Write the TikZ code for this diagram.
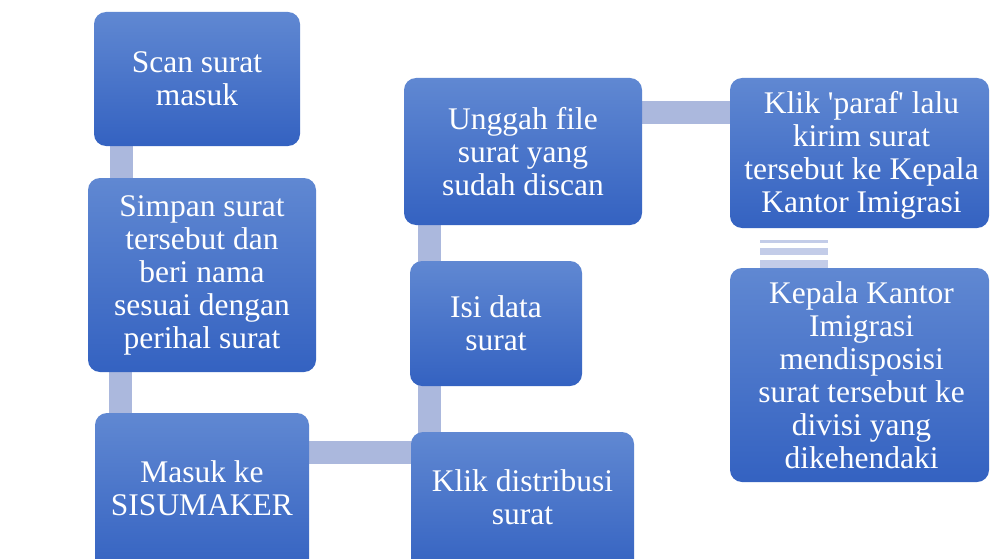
\documentclass[tikz,border=0pt]{standalone}
\usepackage{fontspec}
\setmainfont{Liberation Serif}
\begin{document}
\begin{tikzpicture}[x=1pt,y=-1pt]
\definecolor{boxtop}{HTML}{6088D2}
\definecolor{boxbot}{HTML}{3462C1}
\definecolor{conncol}{HTML}{ABB8DD}
\definecolor{stripecol}{HTML}{C3CCE8}
\tikzset{
  box/.style={draw=none, rounded corners=12pt, top color=boxtop, bottom color=boxbot, inner sep=0pt},
  txt/.style={text=white, align=center, font=\fontsize{31.5}{33}\selectfont, inner sep=0pt},
  conn/.style={draw=conncol, line width=23pt},
  stripe/.style={fill=stripecol, draw=none}
}
\useasboundingbox (0,0) rectangle (990,559);
\clip (0,0) rectangle (990,559);
\fill[white] (0,0) rectangle (990,559);
\path
  coordinate (p1) at (197,79)
  coordinate (p2) at (202,275)
  coordinate (p3) at (202,494)
  coordinate (p4) at (523,151.5)
  coordinate (p5) at (496,323.5)
  coordinate (p6) at (522.5,503.5)
  coordinate (p7) at (859.5,153)
  coordinate (p8) at (859.5,375);
% invisible geometry nodes for connector routing
\node[minimum width=206pt, minimum height=134pt, inner sep=0pt] (g1) at (p1) {};
\node[minimum width=228pt, minimum height=194pt, inner sep=0pt] (g2) at (p2) {};
\node[minimum width=214pt, minimum height=162pt, inner sep=0pt] (g3) at (p3) {};
\node[minimum width=238pt, minimum height=147pt, inner sep=0pt] (g4) at (p4) {};
\node[minimum width=172pt, minimum height=125pt, inner sep=0pt] (g5) at (p5) {};
\node[minimum width=223pt, minimum height=143pt, inner sep=0pt] (g6) at (p6) {};
\node[minimum width=259pt, minimum height=150pt, inner sep=0pt] (g7) at (p7) {};
\node[minimum width=259pt, minimum height=214pt, inner sep=0pt] (g8) at (p8) {};
% connectors
\draw[conn] ([xshift=27.5pt,yshift=8pt]g1.south west) -- ([xshift=27.5pt,yshift=-8pt]g1.south west |- g2.north);
\draw[conn] ([xshift=33pt,yshift=8pt]g2.south west) -- ([xshift=33pt,yshift=-8pt]g2.south west |- g3.north);
\draw[conn] ([xshift=-8pt]g3.east |- 0,452.5) -- ([xshift=8pt]g6.west |- 0,452.5);
\draw[conn] ([xshift=20pt,yshift=8pt]g5.south west) -- ([xshift=20pt,yshift=-8pt]g5.south west |- g6.north);
\draw[conn] ([xshift=26pt,yshift=8pt]g4.south west) -- ([xshift=26pt,yshift=-8pt]g4.south west |- g5.north);
\draw[conn] ([xshift=-8pt]g4.east |- 0,112.5) -- ([xshift=8pt]g7.west |- 0,112.5);
\fill[stripe] ([xshift=30pt,yshift=-12pt]g7.south west) rectangle ([xshift=98pt,yshift=-15pt]g7.south west);
\fill[stripe] ([xshift=30pt,yshift=-20pt]g7.south west) rectangle ([xshift=98pt,yshift=-27pt]g7.south west);
\fill[stripe] ([xshift=30pt,yshift=-32pt]g7.south west) rectangle ([xshift=98pt]g8.north west);
% visible boxes
\node[box, minimum width=206pt, minimum height=134pt] (b1) at (p1) {};
\node[box, minimum width=228pt, minimum height=194pt] (b2) at (p2) {};
\node[box, minimum width=214pt, minimum height=162pt] (b3) at (p3) {};
\node[box, minimum width=238pt, minimum height=147pt] (b4) at (p4) {};
\node[box, minimum width=172pt, minimum height=125pt] (b5) at (p5) {};
\node[box, minimum width=223pt, minimum height=143pt] (b6) at (p6) {};
\node[box, minimum width=259pt, minimum height=150pt] (b7) at (p7) {};
\node[box, minimum width=259pt, minimum height=214pt] (b8) at (p8) {};
% texts
\node[txt] (t1) at (b1.center) {Scan surat\\masuk};
\node[txt] (t2) at (b2.center) {Simpan surat\\tersebut dan\\beri nama\\sesuai dengan\\perihal surat};
\node[txt] (t3) at ([yshift=6pt]b3.center) {Masuk ke\\SISUMAKER};
\node[txt] (t4) at (b4.center) {Unggah file\\surat yang\\sudah discan};
\node[txt] (t5) at (b5.center) {Isi data\\surat};
\node[txt] (t6) at ([yshift=6pt]b6.center) {Klik distribusi\\surat};
\node[txt] (t7) at ([xshift=2pt,yshift=-2pt]b7.center) {Klik \textquotesingle paraf\textquotesingle{} lalu\\kirim surat\\tersebut ke Kepala\\Kantor Imigrasi};
\node[txt] (t8) at ([xshift=2pt]b8.center) {Kepala Kantor\\Imigrasi\\mendisposisi\\surat tersebut ke\\divisi yang\\dikehendaki};
\end{tikzpicture}
\end{document}
